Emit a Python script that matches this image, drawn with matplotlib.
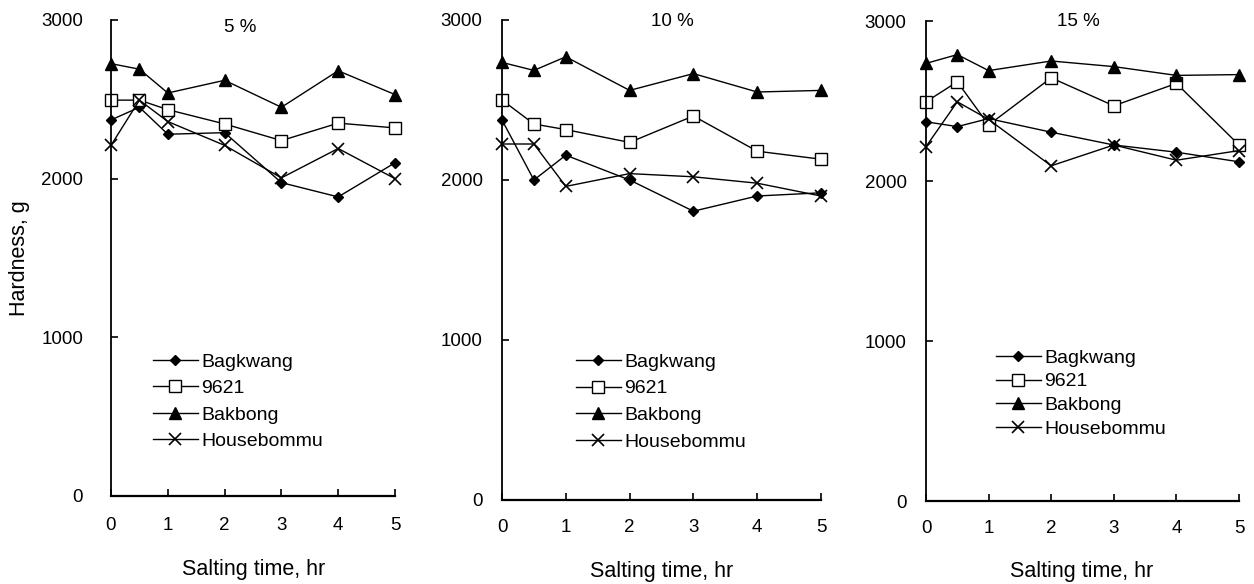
import matplotlib
matplotlib.use("Agg")
import matplotlib.pyplot as plt

plt.rcParams['font.family'] = ['Liberation Sans', 'DejaVu Sans']

hours = [0, 0.5, 1, 2, 3, 4, 5]
x_ticks = [0, 1, 2, 3, 4, 5]
y_ticks = [0, 1000, 2000, 3000]
varieties = ["Bagkwang", "9621", "Bakbong", "Housebommu"]
concentrations = ["5 %", "10 %", "15 %"]

# Hardness (g) per salt concentration
bagkwang = [
    [2370, 2450, 2280, 2290, 1975, 1885, 2100],
    [2375, 2000, 2155, 2000, 1805, 1900, 1920],
    [2370, 2340, 2390, 2305, 2225, 2180, 2120],
]
v9621 = [
    [2495, 2495, 2435, 2345, 2240, 2350, 2320],
    [2500, 2350, 2315, 2235, 2400, 2180, 2130],
    [2495, 2620, 2350, 2645, 2470, 2610, 2225],
]
bakbong = [
    [2725, 2690, 2540, 2620, 2450, 2680, 2530],
    [2735, 2685, 2770, 2560, 2665, 2550, 2560],
    [2735, 2790, 2690, 2750, 2715, 2660, 2665],
]
housebommu = [
    [2210, 2495, 2360, 2210, 2005, 2190, 2000],
    [2225, 2225, 1960, 2040, 2020, 1980, 1900],
    [2215, 2495, 2385, 2095, 2225, 2130, 2190],
]

W, H = 1254, 584
fig = plt.figure(figsize=(W / 100, H / 100), dpi=100)

# axes boxes in pixels: left, right, top (y=3000), bottom (y=0)
boxes = [(111, 395, 20, 496), (502, 821, 20, 500), (926, 1239, 21, 501)]
title_pos = [(240, 28), (672, 22), (1078, 22)]
xlabel_pos = [(254, 570), (662, 572), (1082, 572)]
legend_pos = [(153, 353), (576, 353), (996, 349)]
legend_spacing = [0.46, 0.47, 0.32]
ytick_pad = [20, 14, 14]
xtick_pad = [15, 14, 14]

styles = [
    dict(marker='D', markersize=5.5, markerfacecolor='black', markeredgecolor='black'),
    dict(marker='s', markersize=8, markerfacecolor='white', markeredgecolor='black'),
    dict(marker='^', markersize=8, markerfacecolor='black', markeredgecolor='black'),
    dict(marker='x', markersize=8, markeredgecolor='black', markeredgewidth=1.2),
]

for i, (l, r, t, b) in enumerate(boxes):
    ax = fig.add_axes([l / W, (H - b) / H, (r - l) / W, (b - t) / H])
    series = [bagkwang[i], v9621[i], bakbong[i], housebommu[i]]
    for name, vals, st in zip(varieties, series, styles):
        ax.plot(hours, vals, color='black', linewidth=1.0, label=name,
                clip_on=False, **st)
    ax.set_xlim(0, 5)
    ax.set_ylim(0, 3000)
    ax.set_xticks(x_ticks)
    ax.set_yticks(y_ticks)
    for side in ('top', 'right'):
        ax.spines[side].set_visible(False)
    ax.spines['left'].set_linewidth(1.3)
    ax.spines['bottom'].set_linewidth(1.6)
    ax.tick_params(axis='both', direction='in', length=5, width=1.2,
                   labelsize=13.5)
    ax.tick_params(axis='x', pad=xtick_pad[i])
    ax.tick_params(axis='y', pad=ytick_pad[i])
    fig.text(xlabel_pos[i][0] / W, 1 - xlabel_pos[i][1] / H, "Salting time, hr",
             fontsize=15.5, ha='center', va='center')
    fig.text(title_pos[i][0] / W, 1 - title_pos[i][1] / H, concentrations[i],
             fontsize=13.5, ha='center', va='center')
    ax.legend(loc='upper left',
              bbox_to_anchor=(legend_pos[i][0] / W, 1 - legend_pos[i][1] / H),
              bbox_transform=fig.transFigure, frameon=False,
              fontsize=14, handlelength=2.3, handletextpad=0.2,
              labelspacing=legend_spacing[i], borderpad=0, borderaxespad=0)

fig.text(20 / W, 1 - 258 / H, "Hardness, g", rotation=90, fontsize=15.5,
         ha='center', va='center')

fig.savefig("out.png", dpi=100)
